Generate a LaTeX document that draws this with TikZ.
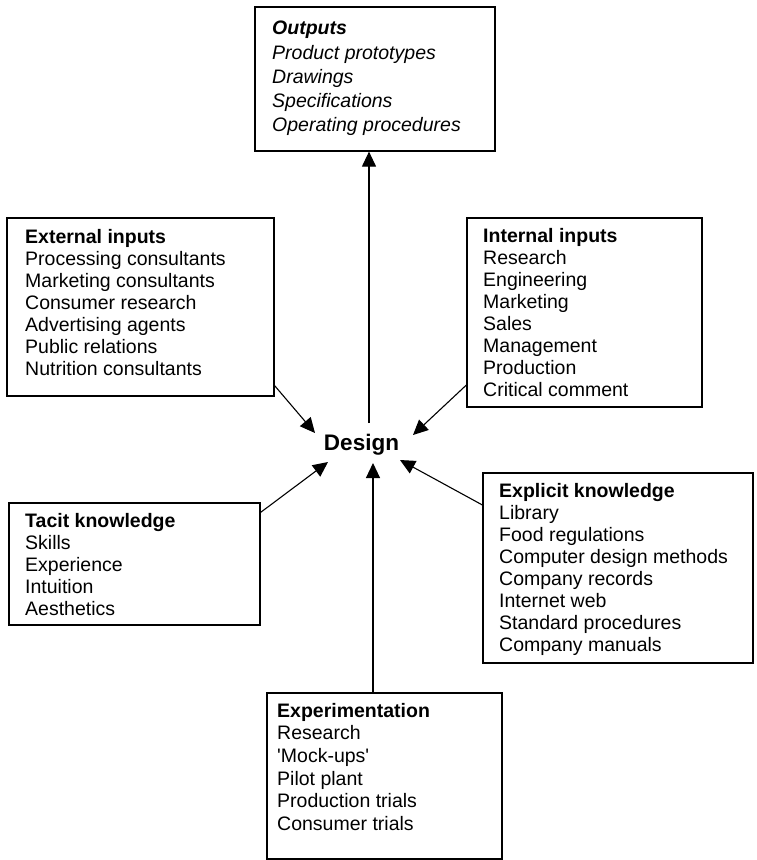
\documentclass[tikz,border=0pt]{standalone}
\usepackage{fontspec}
\setmainfont{Liberation Sans}
\usetikzlibrary{arrows.meta}
\begin{document}
\begin{tikzpicture}[x=1pt,y=-1pt,
  box/.style={draw=black,line width=1.2pt,rectangle,inner sep=0pt},
  listtext/.style={anchor=north west,align=left,inner sep=0pt,
    font=\fontsize{19.5}{22}\selectfont},
  arr/.style={line width=1.1pt,-{Triangle[length=15pt,width=14pt]}}]
\useasboundingbox (0,0) rectangle (756,860);

% boxes
\node[box,minimum width=240pt,minimum height=144pt] (out)   at (375,79) {};
\node[box,minimum width=267pt,minimum height=178pt] (ext)   at (140.5,307) {};
\node[box,minimum width=235pt,minimum height=189pt] (int)   at (584.5,312.5) {};
\node[box,minimum width=251pt,minimum height=122pt] (tac)   at (134.5,564) {};
\node[box,minimum width=270pt,minimum height=190pt] (expl)  at (618,568) {};
\node[box,minimum width=235pt,minimum height=166pt] (exper) at (384.5,776) {};

% box contents
\node[listtext,font=\fontsize{19.5}{24.2}\selectfont\itshape] (outT) at (272,21)
  {\textbf{Outputs}\\Product prototypes\\Drawings\\Specifications\\Operating procedures};
\node[listtext] (extT) at (25,229)
  {\textbf{External inputs}\\Processing consultants\\Marketing consultants\\Consumer research\\Advertising agents\\Public relations\\Nutrition consultants};
\node[listtext] (intT) at (483,228)
  {\textbf{Internal inputs}\\Research\\Engineering\\Marketing\\Sales\\Management\\Production\\Critical comment};
\node[listtext] (tacT) at (25,513)
  {\textbf{Tacit knowledge}\\Skills\\Experience\\Intuition\\Aesthetics};
\node[listtext] (explT) at (499,483)
  {\textbf{Explicit knowledge}\\Library\\Food regulations\\Computer design methods\\Company records\\Internet web\\Standard procedures\\Company manuals};
\node[listtext,font=\fontsize{19.5}{22.6}\selectfont] (experT) at (277,703)
  {\textbf{Experimentation}\\Research\\\textquotesingle Mock-ups\textquotesingle\\Pilot plant\\Production trials\\Consumer trials};

% centre label
\node[inner sep=0pt,anchor=base,font=\fontsize{22.5}{27}\selectfont\bfseries] (design) at (361.5,450) {Design};

% arrow end points around the centre label
\coordinate (dTop)   at (369,423);
\coordinate (tipExt) at (315,433);
\coordinate (tipInt) at (413,435);
\coordinate (tipTac) at (328,462);
\coordinate (tipExp) at (400,460);
\coordinate (tipBot) at (373,463);

% connectors
\draw[arr] (dTop) -- (dTop |- out.south);
\draw[arr] ([yshift=11pt]ext.south east) -- (tipExt);
\draw[arr] (int.west |- 0,385) -- (tipInt);
\draw[arr] ([yshift=-10pt]tac.north east) -- (tipTac);
\draw[arr] (expl.west |- 0,505) -- (tipExp);
\draw[arr] (exper.north -| tipBot) -- (tipBot);
\end{tikzpicture}
\end{document}
